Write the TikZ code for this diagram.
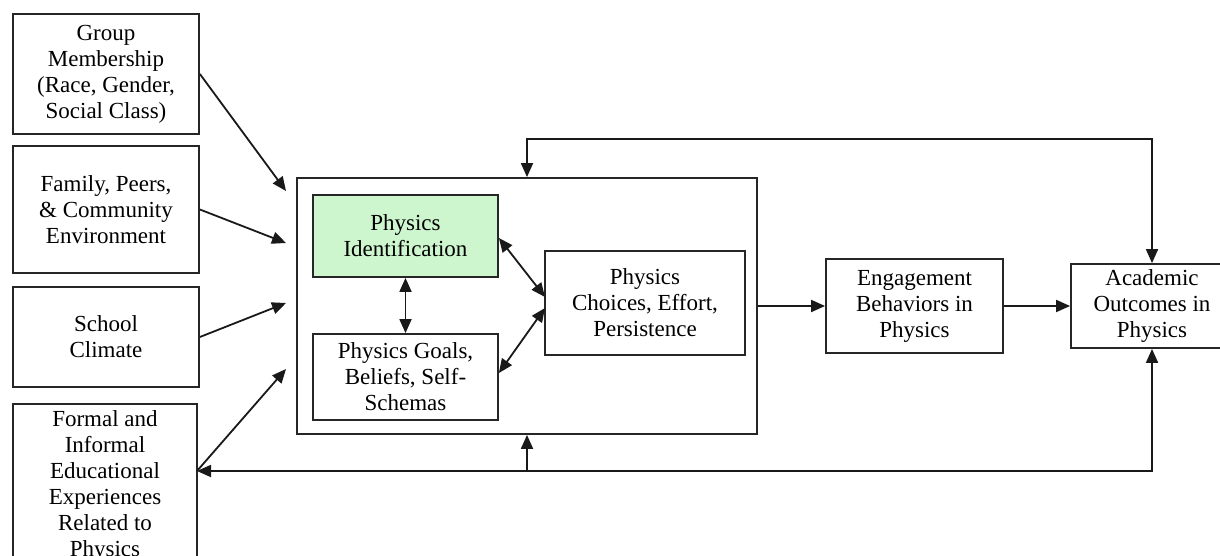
\documentclass[tikz,border=0pt]{standalone}
\usepackage{fontspec}
\setmainfont{Liberation Serif}
\usetikzlibrary{arrows.meta,calc}
\definecolor{idgreen}{RGB}{206,246,206}
\tikzset{
  box/.style={draw=black!85, line width=1.8pt, align=center, inner sep=0pt,
    font=\fontsize{23}{26}\selectfont},
  arr/.style={line width=1.8pt, draw=black!90, -{Triangle[length=14pt,width=12pt]}},
  darr/.style={line width=1.8pt, draw=black!90, {Triangle[length=14pt,width=12pt]}-{Triangle[length=14pt,width=12pt]}}
}
\begin{document}
\begin{tikzpicture}[x=1pt,y=-1pt]
\useasboundingbox (0,0) rectangle (1220,556);
\clip (0,0) rectangle (1220,556);
\fill[white] (0,0) rectangle (1220,556);
% left column
\node[box, minimum width=186pt, minimum height=120pt] (group) at (106,74) {Group\\Membership\\(Race, Gender,\\Social Class)};
\node[box, minimum width=186pt, minimum height=127pt] (family) at (106,209.5) {Family, Peers,\\\& Community\\Environment};
\node[box, minimum width=186pt, minimum height=100pt] (school) at (106,337) {School\\Climate};
\node[box, minimum width=184pt, minimum height=164pt] (formal) at (105,486) {Formal and\\Informal\\Educational\\Experiences\\Related to\\Physics};
% central block
\node[box, minimum width=460pt, minimum height=256pt] (big) at (527,306) {};
\node[box, fill=idgreen, minimum width=185pt, minimum height=82pt] (ident) at (405.5,236) {Physics\\Identification};
\node[box, minimum width=185pt, minimum height=86pt] (goals) at (405.5,377) {Physics Goals,\\Beliefs, Self-\\Schemas};
\node[box, minimum width=200pt, minimum height=104pt] (choices) at (645,303) {Physics\\Choices, Effort,\\Persistence};
% right
\node[box, minimum width=177pt, minimum height=94pt] (engage) at (914.5,306) {Engagement\\Behaviors in\\Physics};
\node[box, minimum width=162pt, minimum height=84pt] (acad) at (1152,306) {Academic\\Outcomes in\\Physics};
% coordinates
\coordinate (t1) at (286,191);
\coordinate (t2) at (286,243);
\coordinate (t3) at (286,303);
\coordinate (t4) at (286,369);
\coordinate (fe) at (197,471);
\coordinate (c1) at (545,297);
\coordinate (c2) at (545,308);
\coordinate (tr) at (1152,139);
% input arrows
\draw[arr] (group.east) -- (t1);
\draw[arr] (family.east) -- (t2);
\draw[arr] (school.east) -- (t3);
\draw[arr] (fe) -- (t4);
% inner arrows
\draw[darr] (ident.south) -- (goals.north);
\draw[darr] ($(ident.east)+(0,2)$) -- (c1);
\draw[darr] ($(goals.east)+(0,-4)$) -- (c2);
\draw[arr] (big.east |- engage.west) -- (engage.west);
\draw[arr] (engage.east) -- (acad.west);
% feedback loops
\draw[darr] (big.north) |- (tr) -- (acad.north);
\draw[darr] (fe) -| (acad.south);
\draw[arr] (big.south |- fe) -- (big.south);
\end{tikzpicture}
\end{document}
